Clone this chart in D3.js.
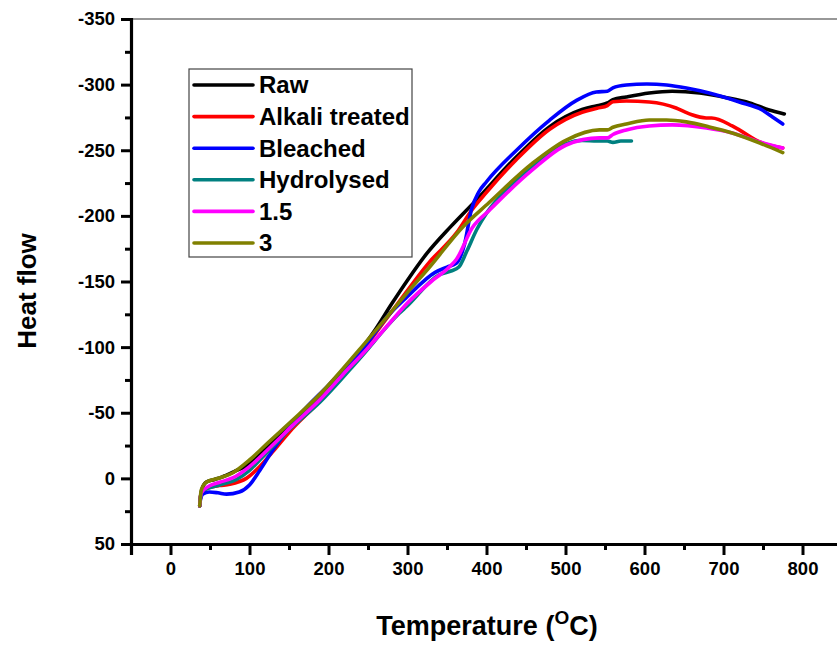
<!DOCTYPE html>
<html>
<head>
<meta charset="utf-8">
<script src="https://cdn.jsdelivr.net/npm/d3@7"></script>
<style>
  body { margin: 0; background: #fff; }
  svg text { font-family: Arial, "Liberation Sans", sans-serif; font-weight: bold; }
</style>
</head>
<body>
<svg id="chart" width="837" height="646"></svg>
<script>
// series: [temperature (°C), heat flow]
var seriesNames = ['Raw', 'Alkali treated', 'Bleached', 'Hydrolysed', '1.5', '3'];
var seriesColors = ['#000000', '#ff0000', '#0000ff', '#008080', '#ff00ff', '#808000'];

var raw = [[37,21],[38,14],[40,8],[45,3],[55,1],[65,-1],[80,-5],[100,-11],[125,-25],[150,-40],[189,-61],[240,-97],[260,-114],[280,-133],[300,-151],[324,-171],[355,-192],[387,-212],[438,-245],[480,-268],[521,-281],[540,-284],[553,-286],[560,-288.5],[577,-290.6],[606,-293.6],[635,-295],[670,-293.6],[704,-290],[733,-286],[758,-280.7],[777,-277.7]];
var alkali = [[37,21],[38,14],[40,10],[49,7],[62,5.5],[75,4.5],[96,0],[113,-9],[129,-20],[150,-35],[189,-59],[240,-95],[280,-127],[328,-165],[362,-187],[382,-205],[400,-218],[438,-243],[480,-266],[521,-279],[540,-282],[553,-284],[560,-287],[577,-287.5],[606,-286.8],[640,-282.2],[651,-279.2],[660,-277],[678,-274.6],[685,-274.6],[711,-268.5],[720,-265.5],[746,-256.3],[775,-251.7]];
var bleached = [[37,21],[38,16],[41,12],[49,10.4],[60,11],[71,12],[87,10.4],[100,5],[113,-6],[129,-21],[147,-36],[163,-48],[200,-71],[240,-96],[277,-125],[299,-138],[335,-157],[350,-161],[362,-164],[372,-178],[381,-205],[390,-218],[400,-226],[438,-250],[480,-273],[514,-288],[539,-294.4],[553,-295],[560,-297.5],[577,-299.7],[603,-300.5],[628,-299.7],[653,-297.4],[682,-293.6],[720,-286.8],[749,-280.7],[762,-275.4],[775,-270]];
var hydrolysed = [[37,21],[38,14],[40,10],[49,7.3],[62,5],[83,1],[100,-6],[113,-14],[129,-24],[150,-37],[189,-58],[239,-91],[290,-126],[299,-131],[340,-155],[355,-158],[365,-161],[375,-173],[388,-190],[400,-202],[413,-212],[458,-237],[501,-255],[521,-257.5],[540,-257],[553,-257],[560,-256],[570,-257],[583.5,-257]];
var ratio15 = [[37,21],[38,14],[39,11],[49,5.8],[62,3],[78.5,-0.3],[100,-9],[125,-23],[154,-40],[189,-60],[218,-79],[248,-98],[277,-118],[299,-133],[330,-150],[353,-161],[362,-167],[382,-191],[404,-204.5],[416.5,-212],[458,-235],[501,-254],[543,-259.4],[553,-259.4],[560,-262],[577,-265.5],[606,-268.5],[635,-269.3],[678.5,-267],[711,-263.2],[746,-256.3],[775,-251.7]];
var ratio3 = [[37,21],[38,13],[39,8.8],[45.6,2.7],[62,-0.3],[78.5,-4.1],[100,-14],[125,-28],[154,-44],[189,-64],[239,-98],[281,-128],[299,-141],[328,-161],[370,-191.6],[403,-210],[458,-240],[501,-257.8],[543,-265.5],[553,-265.5],[560,-267.5],[577,-270],[606,-273.1],[628,-273.1],[653,-271.6],[682,-267.8],[711,-263.2],[746,-255.5],[775,-248.2]];

var xMajor = [0, 100, 200, 300, 400, 500, 600, 700, 800];
var xMinor = [-50, 50, 150, 250, 350, 450, 550, 650, 750];
var yMajor = [-350, -300, -250, -200, -150, -100, -50, 0, 50];
var yMinor = [-325, -275, -225, -175, -125, -75, -25, 25];

var allSeries = [raw, alkali, bleached, hydrolysed, ratio15, ratio3];

var svg = d3.select('#chart');

var x = d3.scaleLinear().domain([-50, 850]).range([131, 842]);
var y = d3.scaleLinear().domain([-350, 50]).range([19, 544]);

// top frame line (right side falls outside the picture)
svg.append('line')
	.attr('x1', 131).attr('x2', 837)
	.attr('y1', 19).attr('y2', 19)
	.style('stroke', '#333').style('stroke-width', 1.2);

var line = d3.line()
	.x(function(d){ return x(d[0]); })
	.y(function(d){ return y(d[1]); })
	.curve(d3.curveMonotoneX);

svg.append('g').selectAll('path')
	.data(allSeries)
	.enter().append('path')
	.attr('d', line)
	.style('fill', 'none')
	.style('stroke', function(d, i){ return seriesColors[i]; })
	.style('stroke-width', 3.6)
	.style('stroke-linejoin', 'round')
	.style('stroke-linecap', 'round');

function fmt(d){ return String(d); }

// y axis
svg.append('g').attr('transform', 'translate(131,0)')
	.call(d3.axisLeft(y).tickValues(yMajor).tickSize(10).tickPadding(6).tickFormat(fmt));
svg.append('g').attr('transform', 'translate(131,0)')
	.call(d3.axisLeft(y).tickValues(yMinor).tickSize(6).tickFormat(''))
	.select('.domain').remove();

// x axis
svg.append('g').attr('transform', 'translate(0,544)')
	.call(d3.axisBottom(x).tickValues(xMajor).tickSize(11).tickPadding(7).tickFormat(fmt));
svg.append('g').attr('transform', 'translate(0,544)')
	.call(d3.axisBottom(x).tickValues(xMinor).tickSize(6).tickFormat(''))
	.select('.domain').remove();

svg.selectAll('.domain').style('stroke', '#000').style('stroke-width', 3.2);
svg.selectAll('.tick line').style('stroke', '#000').style('stroke-width', 3);
svg.selectAll('.tick text')
	.style('font-size', '18.5px')
	.style('font-weight', 'bold')
	.style('font-family', 'Arial, "Liberation Sans", sans-serif')
	.style('fill', '#000');

// axis titles
svg.append('text')
	.attr('transform', 'translate(36,291) rotate(-90)')
	.attr('text-anchor', 'middle')
	.style('font-size', '26px')
	.text('Heat flow');

var xt = svg.append('text')
	.attr('x', 487).attr('y', 635)
	.attr('text-anchor', 'middle')
	.style('font-size', '27px');
xt.append('tspan').text('Temperature (');
xt.append('tspan').attr('dy', -11).style('font-size', '19px').text('O');
xt.append('tspan').attr('dy', 11).text('C)');

// legend
var legend = svg.append('g');
legend.append('rect')
	.attr('x', 189).attr('y', 69)
	.attr('width', 223).attr('height', 188)
	.style('fill', '#fff')
	.style('stroke', '#444').style('stroke-width', 1.2);

var items = legend.selectAll('g.item')
	.data(seriesNames)
	.enter().append('g')
	.attr('class', 'item')
	.attr('transform', function(d, i){ return 'translate(0,' + (85 + i * 31.6) + ')'; });
items.append('line')
	.attr('x1', 194).attr('x2', 253)
	.style('stroke', function(d, i){ return seriesColors[i]; })
	.style('stroke-width', 3.6)
	.style('stroke-linecap', 'round');
items.append('text')
	.attr('x', 259).attr('y', 0)
	.attr('dy', '0.35em')
	.style('font-size', '24px')
	.text(function(d){ return d; });
</script>
</body>
</html>
